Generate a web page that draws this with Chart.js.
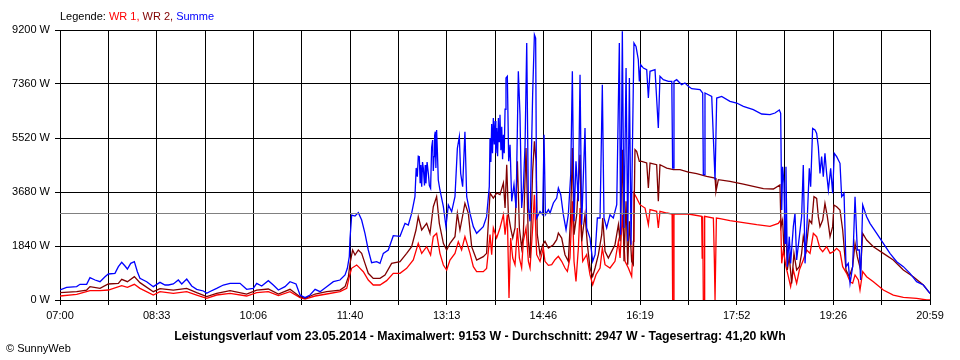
<!DOCTYPE html>
<html><head><meta charset="utf-8">
<script src="https://cdn.jsdelivr.net/npm/chart.js@4/dist/chart.umd.min.js"></script>
<style>html,body{margin:0;padding:0;background:#fff}#wrap{width:960px;height:360px}</style>
</head><body><div id="wrap"><canvas id="c" width="960" height="360"></canvas></div>
<script>
// time = minutes after 07:00, values in W
const xTickLabels = ['07:00','08:33','10:06','11:40','13:13','14:46','16:19','17:52','19:26','20:59'];
const xMax = 839;
const yMax = 9200;
const yStep = 1840;
const avgW = 2947;
const legendLabel = 'Legende:';
const seriesNames = ['WR 1', 'WR 2', 'Summe'];
const titleText = 'Leistungsverlauf vom 23.05.2014 - Maximalwert: 9153 W - Durchschnitt: 2947 W - Tagesertrag: 41,20 kWh';
const copyText = '\u00A9 SunnyWeb';

const sumMin = [0,6.4,16.1,19.3,25.7,28.9,33.8,38.6,43.4,46.6,53.0,56.3,59.5,62.7,65.0,68.2,71.7,74.6,77.1,83.6,90.0,96.4,101.3,104.5,109.3,114.1,117.4,122.2,127.0,131.8,138.3,141.5,144.7,151.1,157.5,164.0,173.6,180.0,186.4,189.7,194.5,200.9,205.7,210.6,217.0,221.8,227.6,231.5,236.3,241.1,246.0,250.8,257.2,263.6,270.0,274.9,277.1,279.0,279.7,
281.3,284.5,287.7,290.9,294.1,297.3,300.5,305.4,308.6,311.8,316.6,321.4,327.9,332.7,335.9,339.1,342.3,343.5,344.6,345.5,346.5,347.3,348.0,348.8,349.6,350.4,351.5,352.2,352.9,354.0,355.2,356.2,357.4,358.4,359.4,360.0,360.7,361.3,361.9,362.5,363.2,364.0,364.8,366.4,369.7,372.2,374.5,377.7,380.9,383.2,385.1,386.4,388.3,390.5,392.2,395.4,398.6,401.8,405.0,408.2,411.4,414.0,
414.7,415.5,416.3,417.1,417.9,418.8,419.6,420.3,421.1,422.0,422.8,423.5,424.3,425.2,426.0,426.8,427.6,428.4,429.2,430.1,431.4,432.7,434.0,435.6,437.8,439.8,442.0,443.6,445.2,446.8,448.5,450.1,451.7,453.3,455.8,457.5,458.7,459.7,462.9,465.5,466.8,468.1,471.0,472.6,475.8,479.0,480.6,482.9,485.4,488.0,490.2,492.5,494.1,495.7,497.6,499.9,501.5,503.1,506.3,507.9,511.1,513.7,516.0,518.2,520.8,523.0,524.6,527.2,530.4,533.6,536.9,539.4,540.7,542.3,543.9,545.9,547.5,549.1,550.7,552.3,553.5,555.5,557.7,558.7,560.0,562.6,565.8,567.4,569.0,573.8,577.0,578.6,581.8,586.7,590.0,590.8,591.6,592.1,594.7,599.5,602.7,606.0,609.2,617.2,619.8,620.4,621.2,622.0,628.5,631.7,632.5,633.3,638.1,646.1,652.6,659.0,668.6,676.7,684.7,689.5,693.7,695.0,696.0,696.9,698.2,699.2,700.1,701.4,703.3,704.6,707.2,708.8,710.4,713.0,715.2,716.8,718.5,720.7,722.6,723.9,725.8,728.1,729.7,731.3,732.9,734.5,736.1,737.7,739.3,741.0,743.2,745.1,746.7,749.0,752.2,753.8,756.1,758.0,760.2,761.9,764.4,766.7,768.9,770.8,772.1,774.1,777.9,781.1,787.6,794.0,800.4,806.9,813.3,819.7,826.1,832.6,838.4,839];
const sumW = [340,432,455,534,534,761,681,624,795,886,909,1135,1283,1158,1056,1249,1306,965,738,624,455,602,511,511,545,681,545,715,477,363,307,227,290,397,511,568,568,363,397,568,477,659,511,340,455,624,545,170,80,170,363,284,455,624,681,852,1079,1476,2102,
2896,2862,2976,2726,2272,1704,1272,1306,1249,1590,1704,2192,2169,2612,2556,2953,3521,4500,4203,4900,4885,4000,4600,3862,4700,4486,3900,4600,3975,4700,4316,3900,3805,5200,5451,4400,4885,5600,5735,4500,5792,5000,4089,3748,3180,2499,3237,3010,3521,5167,5565,4316,3862,5735,3521,2953,2499,2272,2385,2499,2839,3862,
5519,4700,6000,5000,6201,5300,6100,5000,5860,4900,6200,5400,6314,5100,5900,4800,5633,5000,6500,7564,7621,4726,5292,3362,3930,3134,7791,6314,3134,3816,5292,8756,3134,2681,6996,9040,8926,2794,3021,2907,5633,2907,3078,2964,3305,3475,3816,3589,2907,2396,2907,4270,7791,2681,4726,3362,7677,2566,5860,2453,2112,1318,1544,2794,2794,7337,2794,2453,2907,2794,3248,8756,2226,9153,2453,7904,1999,7564,1885,5860,8756,8642,8188,7450,8018,7904,7848,6882,7791,7848,5860,7621,7507,7450,7450,4497,4497,7450,7507,7337,7393,7280,7200,7166,7052,4270,4270,7052,6939,4100,4100,6882,6939,6769,6712,6598,6485,6337,6314,6371,6473,6360,3066,4542,3975,1931,4542,1136,2158,1249,2499,2953,1363,2158,2839,4600,1249,2839,4486,3862,5848,5792,5678,5224,4316,4885,4203,4998,4316,3748,4486,3635,4998,4885,4657,3521,3635,1136,1249,568,1136,3521,1704,1704,681,3237,2839,2612,2272,1931,1590,1306,1136,909,624,511,250,220];

const wr2Min = [0,16.1,25.7,28.9,38.6,46.6,56.3,59.5,65.0,71.7,77.1,90.0,96.4,109.3,122.2,131.8,141.5,151.1,164.0,180.0,189.7,200.9,210.6,221.8,231.5,236.3,246.0,257.2,270.0,274.9,278.1,279.7,282.2,284.5,287.7,290.9,294.1,297.3,302.1,308.6,313.4,319.8,327.9,334.3,339.1,343.3,345.5,348.8,353.6,356.8,360.0,363.2,365.8,369.7,372.9,376.1,380.9,383.2,385.7,390.5,393.8,397.0,401.8,408.2,411.4,
414.7,417.9,421.1,424.3,427.6,429.2,430.8,432.4,434.6,436.6,438.8,441.1,443.0,445.2,446.8,449.4,451.7,453.3,455.8,457.5,459.1,460.3,462.9,465.5,467.7,471.0,475.8,479.0,480.6,483.8,487.0,490.2,492.5,494.1,495.7,498.3,501.5,503.1,506.3,508.6,511.1,513.7,516.0,519.2,522.4,523.4,525.6,528.8,532.0,535.2,538.5,540.1,542.3,543.9,545.9,547.5,549.1,551.3,552.9,554.5,556.1,558.7,561.0,565.8,567.4,569.0,575.4,577.0,578.6,585.1,591.5,597.9,606.0,614.0,623.6,631.7,632.6,634.9,646.1,659.0,668.6,678.3,688.0,694.3,695.3,696.9,698.2,700.1,701.4,703.3,705.6,707.8,710.4,713.0,715.2,716.8,719.4,722.6,724.9,727.1,729.7,731.3,732.9,735.5,737.7,740.0,742.6,745.1,746.4,749.0,752.2,754.8,758.0,761.2,764.4,766.7,768.9,772.1,774.1,777.9,784.4,794.0,803.6,813.3,822.9,832.6,838.4,839];
const wr2W = [250,284,340,455,397,545,568,704,624,795,591,284,386,340,397,250,114,227,318,204,340,375,204,363,114,57,204,284,340,455,795,1249,1704,1533,1704,1590,1249,909,738,738,852,1249,1306,1590,1817,2385,2839,2385,2612,2272,3180,3521,2612,1931,1704,1931,2158,2953,2385,3294,2953,1817,1363,1476,1590,
3645,3475,3645,3589,3986,3134,4611,2907,2453,2112,2453,4726,2453,1772,2226,5179,1999,1431,4384,5406,4726,2226,1544,1885,1999,1772,1885,2055,2283,2112,1544,1318,2907,5179,2226,2907,4952,1999,2907,1885,1090,806,1090,1544,2226,2794,1658,1431,1658,1885,2566,1999,5122,1318,3362,1204,2681,1318,1204,5122,5065,4726,4726,4668,3816,4668,4611,3362,4611,4497,4441,4441,4361,4305,4213,4157,3703,4100,4043,3952,3873,3793,3782,3918,2499,2726,1704,2499,1022,1476,568,1590,1022,1136,1590,2158,1704,2726,2612,3521,3464,2839,2499,2726,3294,2839,2158,2499,3237,3180,3066,2385,1022,795,1136,1931,1476,1022,2272,2044,1817,1590,1363,1022,795,511,250,230];

const wr1Min = [0,16.1,28.9,38.6,46.6,59.5,65.0,71.7,77.1,90.0,96.4,109.3,122.2,131.8,141.5,151.1,164.0,180.0,189.7,200.9,210.6,221.8,231.5,236.3,246.0,257.2,270.0,276.5,279.0,281.2,286.1,287.7,292.5,297.3,302.1,308.6,315.0,321.4,327.9,334.3,340.7,345.5,348.8,353.6,357.4,360.0,363.2,366.4,369.7,372.9,376.1,380.9,384.1,387.3,390.5,395.4,398.6,401.8,408.2,411.4,
414.7,416.3,417.9,421.1,424.3,427.6,429.2,431.4,433.0,434.6,436.6,438.8,441.1,443.0,445.2,446.8,449.4,451.7,453.3,455.8,457.5,459.7,462.9,466.1,467.7,471.0,474.2,477.4,480.6,483.8,487.0,489.3,491.8,494.1,495.7,497.6,499.9,501.5,504.1,507.9,511.1,513.7,516.9,520.8,523.0,525.6,530.4,535.2,538.5,540.1,542.3,544.9,548.1,551.3,552.9,553.5,556.1,559.3,564.2,567.4,569.0,575.4,577.0,578.6,585.1,590.3,590.8,591.6,592.1,606.0,618.8,619.3,619.8,620.4,621.2,621.7,630.1,631.0,631.7,632.5,633.0,636.5,646.1,662.2,671.9,684.7,692.7,695.0,696.0,697.6,700.1,702.4,704.6,707.2,710.4,713.0,716.8,720.1,723.3,726.5,729.7,732.9,735.5,739.3,742.6,745.8,749.0,752.2,754.8,758.6,761.9,764.4,766.7,769.9,771.5,774.1,777.9,784.4,794.0,803.6,813.3,826.1,835.8,839];
const wr1W = [136,193,318,318,340,488,432,534,397,170,284,227,284,170,57,170,227,136,250,284,148,284,80,34,136,204,284,397,795,1080,1192,1136,965,681,511,511,659,909,909,1079,1363,1931,1590,1817,1533,2158,2272,1590,1192,1022,1363,1590,1987,1704,2158,1590,1136,965,965,1079,
2226,1544,2453,2112,2453,2907,2226,2907,68,2112,1431,1204,2453,1431,1090,1999,2453,1318,1090,2453,3589,1544,1318,1772,1318,1181,1204,1374,1488,1318,1090,977,1431,3362,1318,636,1772,3134,1318,1544,863,522,863,1090,1772,1204,1090,1318,1999,1431,2907,1318,1090,806,1999,3645,3475,3248,3134,2566,3078,3021,2453,3021,2964,2930,0,0,2930,2930,2851,1431,2850,0,0,2850,2794,1431,0,0,2794,2770,2703,2623,2566,2510,2612,2726,1249,1704,1136,795,455,1022,568,1022,1363,1704,1590,2272,2158,1760,1647,1817,1590,1647,1760,1647,1136,909,624,568,852,681,340,965,795,624,340,170,91,57,0,0];

const toPts = (xs, ys) => xs.map((t, i) => ({x: t, y: ys[i]}));
const FONT = "'Liberation Sans', Arial, sans-serif";
const colors = ['#ff0000', '#800000', '#0000ff'];

const textPlugin = {
  id: 'texts',
  afterDraw(chart) {
    const ctx = chart.ctx;
    ctx.save();
    ctx.textBaseline = 'middle';
    ctx.textAlign = 'left';
    ctx.font = '11px ' + FONT;
    let x = 60;
    ctx.fillStyle = '#000';
    ctx.fillText(legendLabel + ' ', x, 17);
    x += ctx.measureText(legendLabel + ' ').width;
    seriesNames.forEach((n, i) => {
      const s = n + (i < seriesNames.length - 1 ? ', ' : '');
      ctx.fillStyle = colors[i];
      ctx.fillText(s, x, 17);
      x += ctx.measureText(s).width;
    });
    ctx.fillStyle = '#000';
    ctx.font = 'bold 12.3px ' + FONT;
    ctx.textAlign = 'center';
    ctx.fillText(titleText, 480, 337);
    ctx.textAlign = 'left';
    ctx.font = '11px ' + FONT;
    ctx.fillText(copyText, 6, 349);
    ctx.restore();
  }
};

const lineDs = (label, xs, ys, color, order) => ({
  label, data: toPts(xs, ys), borderColor: color, backgroundColor: color,
  borderWidth: 1.3, pointRadius: 0, tension: 0, fill: false, order
});

new Chart(document.getElementById('c'), {
  type: 'line',
  data: {
    datasets: [
      {label: 'avg', data: [{x: 0, y: avgW}, {x: xMax, y: avgW}], borderColor: '#808080', borderWidth: 1, pointRadius: 0, order: 0},
      lineDs(seriesNames[2], sumMin, sumW, colors[2], 1),
      lineDs(seriesNames[1], wr2Min, wr2W, colors[1], 2),
      lineDs(seriesNames[0], wr1Min, wr1W, colors[0], 3)
    ]
  },
  options: {
    responsive: false,
    animation: false,
    layout: {padding: {top: 30, right: 30, left: 0, bottom: 0}},
    plugins: {legend: {display: false}, title: {display: false}, tooltip: {enabled: false}},
    scales: {
      x: {
        type: 'linear', min: 0, max: xMax, z: 1,
        afterFit(s) { s.height = 60; },
        afterBuildTicks(s) {
          const t = [];
          for (let i = 0; i <= 18; i++) t.push({value: i * xMax / 18});
          s.ticks = t;
        },
        grid: {color: '#000', lineWidth: 1, tickLength: 5, tickColor: '#000'},
        border: {color: '#000', width: 1},
        ticks: {
          autoSkip: false, maxRotation: 0, padding: 4, color: '#000',
          font: {family: FONT, size: 11},
          callback(v, i) { return i % 2 === 0 ? xTickLabels[i / 2] : ''; }
        }
      },
      y: {
        type: 'linear', min: 0, max: yMax, z: 1,
        afterFit(s) { s.width = 60; },
        grid: {color: '#000', lineWidth: 1, tickLength: 5, tickColor: '#000'},
        border: {color: '#000', width: 1},
        ticks: {
          stepSize: yStep, padding: 5, color: '#000',
          font: {family: FONT, size: 11},
          callback(v) { return v + ' W'; }
        }
      }
    }
  },
  plugins: [textPlugin]
});
</script>
</body></html>
